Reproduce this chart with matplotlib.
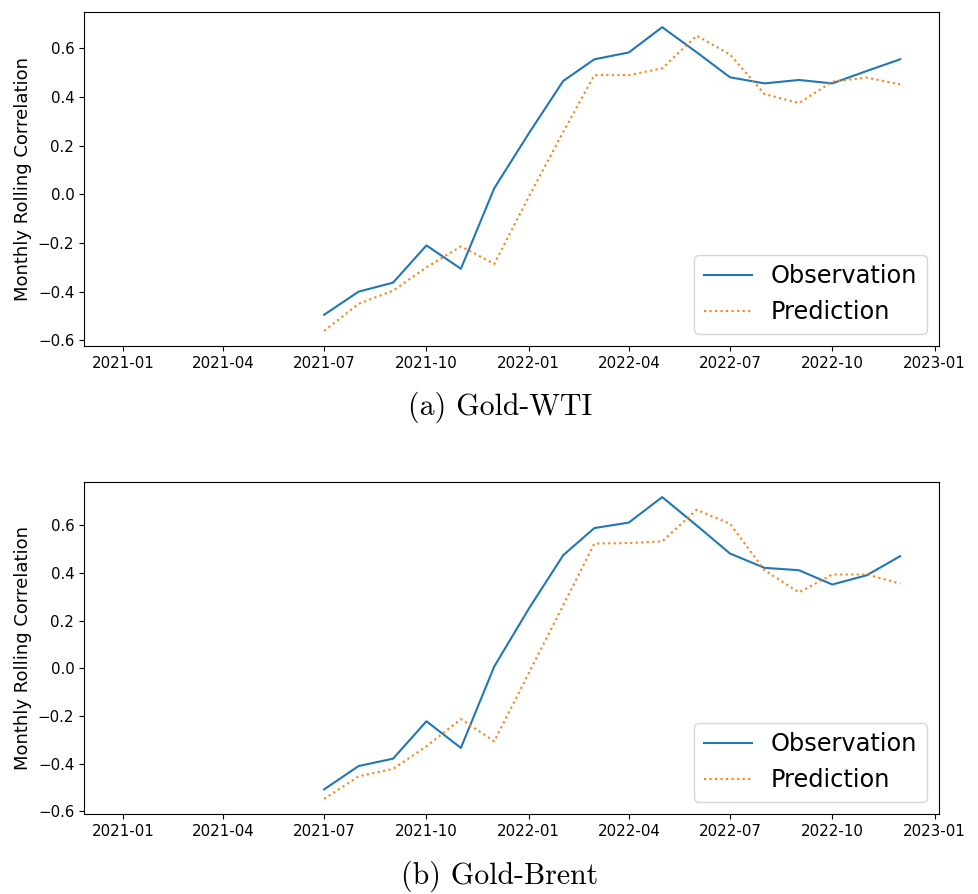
import numpy as np
import pandas as pd
import matplotlib
matplotlib.use("Agg")
import matplotlib.pyplot as plt
import matplotlib.dates as mdates

# Monthly dates (first six months have no rolling correlation yet)
months = pd.date_range("2021-01-01", "2022-12-01", freq="MS")
nan6 = [np.nan] * 6

# (a) Gold-WTI
wti_obs = nan6 + [-0.495, -0.40, -0.363, -0.21, -0.306, 0.025, 0.25, 0.466, 0.555,
                  0.583, 0.687, 0.584, 0.481, 0.456, 0.47, 0.456, 0.507, 0.555]
wti_pred = nan6 + [-0.561, -0.45, -0.396, -0.30, -0.214, -0.286, -0.01, 0.256, 0.49,
                   0.49, 0.518, 0.652, 0.575, 0.412, 0.375, 0.463, 0.48, 0.452]

# (b) Gold-Brent
brent_obs = nan6 + [-0.508, -0.41, -0.379, -0.222, -0.334, 0.008, 0.25, 0.475, 0.589,
                    0.612, 0.719, 0.60, 0.482, 0.422, 0.412, 0.352, 0.391, 0.471]
brent_pred = nan6 + [-0.548, -0.453, -0.422, -0.327, -0.213, -0.306, -0.02, 0.265, 0.524,
                     0.526, 0.533, 0.666, 0.607, 0.412, 0.319, 0.394, 0.394, 0.356]

captions = ["(a) Gold-WTI", "(b) Gold-Brent"]
ylabel = "Monthly Rolling Correlation"

W, H = 979, 894
fig = plt.figure(figsize=(W / 100, H / 100), dpi=100)

axes_px = [(84, 12, 939, 346), (84, 482, 939, 814)]
caption_y = [407, 876]
series = [(wti_obs, wti_pred), (brent_obs, brent_pred)]

span = months[-1] - months[0]
xlo = months[0] - 0.05 * span
xhi = months[-1] + 0.05 * span

for (l, t, r, b), (obs, pred), cap, cy in zip(axes_px, series, captions, caption_y):
    ax = fig.add_axes([l / W, 1 - b / H, (r - l) / W, (b - t) / H])
    ax.plot(months, obs, color="#1f77b4", lw=1.5, label="Observation")
    ax.plot(months, pred, color="#ff7f0e", lw=1.5, ls=":", label="Prediction")
    ax.set_xlim(xlo, xhi)
    ax.xaxis.set_major_locator(mdates.MonthLocator(bymonth=[1, 4, 7, 10]))
    ax.xaxis.set_major_formatter(mdates.DateFormatter("%Y-%m"))
    ax.set_yticks([-0.6, -0.4, -0.2, 0.0, 0.2, 0.4, 0.6])
    ax.tick_params(labelsize=10.8)
    ax.set_ylabel(ylabel, fontsize=13)
    ax.legend(loc="lower right", fontsize=17.3)
    fig.text(500 / W, 1 - cy / H, cap, ha="center", va="center",
             fontsize=21.5, family="cmr10")

fig.savefig("out.png", dpi=100)
